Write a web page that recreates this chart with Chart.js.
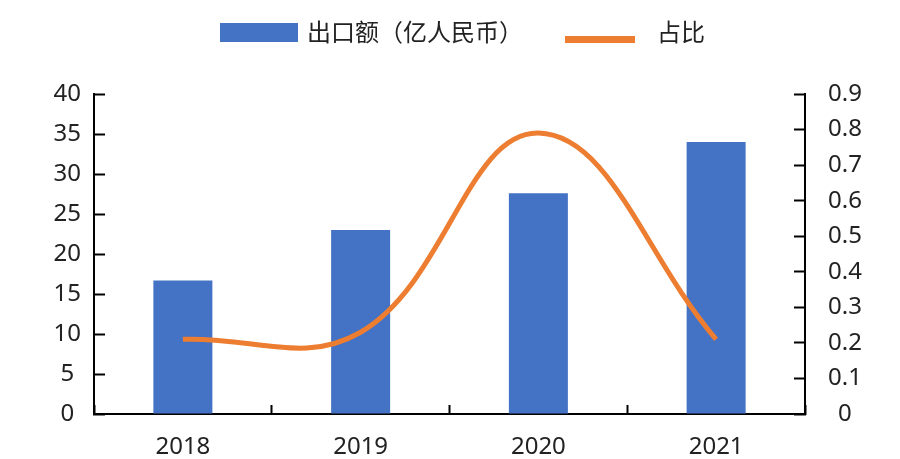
<!DOCTYPE html>
<html>
<head>
<meta charset="utf-8">
<script src="https://cdn.jsdelivr.net/npm/chart.js@4.4.1/dist/chart.umd.min.js"></script>
<style>
  html, body { margin: 0; padding: 0; background: #ffffff; }
  #wrap { width: 900px; height: 459px; }
</style>
</head>
<body>
<div id="wrap"><canvas id="c" width="900" height="459"></canvas></div>
<script>
const categories = ['2018', '2019', '2020', '2021'];
const exportValues = [16.7, 23.0, 27.6, 34.0];
const shareValues = [0.21, 0.23, 0.79, 0.21];
const leftTicks = [0, 5, 10, 15, 20, 25, 30, 35, 40];
const rightTicks = [0, 0.1, 0.2, 0.3, 0.4, 0.5, 0.6, 0.7, 0.8, 0.9];
const seriesNames = ['出口额（亿人民币）', '占比'];

const BLUE = '#4472C4';
const ORANGE = '#ED7D31';
const AXIS = '#000000';
const TEXT = '#222222';
const numFont = { family: '"Noto Sans", "DejaVu Sans", sans-serif', size: 24 };

// legend symbols
const barSym = document.createElement('canvas');
barSym.width = 78; barSym.height = 19;
(function () { const g = barSym.getContext('2d'); g.fillStyle = BLUE; g.fillRect(0, 0, 78, 19); })();
const lineSym = document.createElement('canvas');
lineSym.width = 88; lineSym.height = 24;
(function () { const g = lineSym.getContext('2d'); g.fillStyle = ORANGE; g.fillRect(0, 16, 70, 7); })();

const LEG_X1 = 223, LEG_CY = 32;
const layoutPlugin = {
  id: 'layoutFix',
  afterInit(chart) {
    const lg = chart.legend;
    if (lg) {
      const origFit = lg.fit.bind(lg);
      lg.fit = function () { origFit(); this.height = 94; };
      const origDraw = lg.draw.bind(lg);
      lg.draw = function () {
        const p = this.options.labels.padding;
        const fs = this.options.labels.font.size;
        const x1 = (this.left + p + this.right - this.lineWidths[0]) / 2;
        const dx = LEG_X1 - x1;
        const dy = LEG_CY - (this.top + p + fs / 2);
        const L = this.left, R = this.right, T = this.top;
        this.left = L + dx; this.right = R + dx; this.top = T + dy;
        origDraw();
        this.left = L; this.right = R; this.top = T;
      };
    }
  }
};

function fixVertical(width) {
  return function (s) {
    s.width = width;
    s.paddingTop = 0;
    s.paddingBottom = 0;
  };
}

new Chart(document.getElementById('c'), {
  data: {
    labels: categories,
    datasets: [
      {
        type: 'bar',
        label: seriesNames[0],
        data: exportValues,
        backgroundColor: BLUE,
        borderWidth: 0,
        yAxisID: 'y',
        categoryPercentage: 1.0,
        barPercentage: 0.332,
        order: 1
      },
      {
        type: 'line',
        label: seriesNames[1],
        data: shareValues,
        borderColor: ORANGE,
        backgroundColor: ORANGE,
        borderWidth: 5,
        pointRadius: 0,
        pointHoverRadius: 0,
        tension: 0.4,
        fill: false,
        yAxisID: 'y1',
        order: 0
      }
    ]
  },
  options: {
    responsive: false,
    animation: false,
    devicePixelRatio: 1,
    layout: { padding: 0 },
    plugins: {
      tooltip: { enabled: false },
      legend: {
        position: 'top',
        align: 'center',
        labels: {
          font: { family: '"Noto Sans CJK SC", "Noto Sans", sans-serif', size: 24 },
          color: TEXT,
          padding: 50,
          usePointStyle: true,
          pointStyleWidth: 72,
          boxHeight: 19,
          generateLabels(chart) {
            return chart.data.datasets.map((ds, i) => ({
              text: ds.label,
              datasetIndex: i,
              fillStyle: i === 0 ? BLUE : ORANGE,
              strokeStyle: i === 0 ? BLUE : ORANGE,
              lineWidth: 0,
              pointStyle: i === 0 ? barSym : lineSym,
              hidden: false,
              fontColor: TEXT
            }));
          }
        }
      }
    },
    scales: {
      x: {
        type: 'category',
        offset: true,
        grid: {
          display: true,
          offset: true,
          drawOnChartArea: false,
          drawTicks: true,
          tickLength: -9,
          tickWidth: 2,
          tickColor: AXIS
        },
        border: { display: true, color: AXIS, width: 2 },
        ticks: { font: numFont, color: TEXT, padding: 28 },
        afterFit(s) { s.height = 45; }
      },
      y: {
        type: 'linear',
        position: 'left',
        min: 0,
        max: 40,
        afterBuildTicks(s) { s.ticks = leftTicks.map(v => ({ value: v })); },
        grid: {
          display: true,
          drawOnChartArea: false,
          drawTicks: true,
          tickLength: -11,
          tickWidth: 2,
          tickColor: AXIS
        },
        border: { display: true, color: AXIS, width: 2 },
        ticks: {
          font: numFont,
          color: TEXT,
          padding: 24,
          crossAlign: 'center',
          callback: v => String(v)
        },
        afterFit: fixVertical(94)
      },
      y1: {
        type: 'linear',
        position: 'right',
        min: 0,
        max: 0.9,
        afterBuildTicks(s) { s.ticks = rightTicks.map(v => ({ value: v })); },
        grid: {
          display: true,
          drawOnChartArea: false,
          drawTicks: true,
          tickLength: -11,
          tickWidth: 2,
          tickColor: AXIS
        },
        border: { display: true, color: AXIS, width: 2 },
        ticks: {
          font: numFont,
          color: TEXT,
          padding: 34,
          crossAlign: 'center',
          callback: v => String(+(+v).toFixed(1))
        },
        afterFit: fixVertical(95)
      }
    }
  },
  plugins: [layoutPlugin]
});
</script>
</body>
</html>
